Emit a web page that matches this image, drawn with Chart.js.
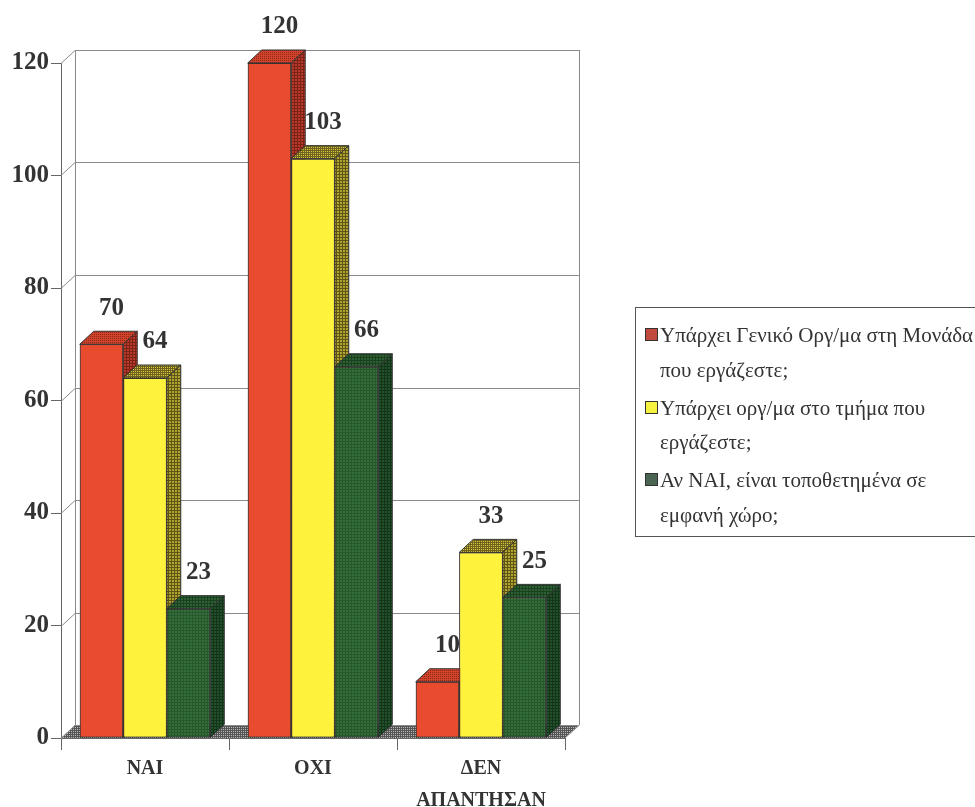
<!DOCTYPE html>
<html>
<head>
<meta charset="utf-8">
<script src="https://cdn.jsdelivr.net/npm/chart.js@4.4.1/dist/chart.umd.min.js"></script>
<style>
  html, body { margin: 0; padding: 0; background: #ffffff; overflow: hidden; width: 975px; height: 807px; }
  #wrap { position: relative; width: 975px; height: 807px; }
  #chart { position: absolute; left: 0; top: 0; }
  #legend { position: absolute; left: 635px; top: 307px; width: 360px; height: 230px; box-sizing: border-box;
            border: 1px solid #555; font-family: "Liberation Serif", "Times New Roman", serif; font-size: 21px; color: #333; }
  #legend .ln { position: absolute; left: 24px; white-space: nowrap; line-height: 21px; }
  #legend .sw { position: absolute; left: 9px; width: 11px; height: 11px; border: 1px solid #333; }
</style>
</head>
<body>
<div id="wrap">
  <canvas id="chart" width="975" height="807"></canvas>
  <div id="legend"></div>
</div>
<script>
// ---- data ----
const categories = ['ΝΑΙ', 'ΟΧΙ', ['ΔΕΝ', 'ΑΠΑΝΤΗΣΑΝ']];
const generalUnitValues = [70, 120, 10];
const departmentValues = [64, 103, 33];
const visiblePlaceValues = [23, 66, 25];
const yTickValues = [0, 20, 40, 60, 80, 100, 120];
const seriesNames = [
  ['Υπάρχει Γενικό Οργ/μα στη Μονάδα', 'που εργάζεστε;'],
  ['Υπάρχει οργ/μα στο τμήμα που', 'εργάζεστε;'],
  ['Αν ΝΑΙ, είναι τοποθετημένα σε', 'εμφανή χώρο;']
];

// ---- 3D depth of the boxes ----
const DX = 14, DY = 13;

// small repeating textures for the shaded faces
const patCtx = document.createElement('canvas').getContext('2d');
function texture(bg, fg, step, mode) {
  const c = document.createElement('canvas');
  c.width = c.height = step;
  const g = c.getContext('2d');
  g.fillStyle = bg; g.fillRect(0, 0, step, step);
  g.fillStyle = fg;
  if (mode === 'grid') { g.fillRect(0, 0, step, 1); g.fillRect(0, 0, 1, step); }
  else { g.fillRect(0, 0, 1, 1); }
  return patCtx.createPattern(c, 'repeat');
}

const faces = [
  { front: '#e94b2f', top: texture('#d2432c', '#8f2a1a', 2, 'dot'), side: texture('#b9392a', '#7a2216', 3, 'grid') },
  { front: '#fff23c', top: texture('#d8c83a', '#6e6420', 2, 'grid'), side: texture('#b2a22e', '#5e5618', 3, 'grid') },
  { front: texture('#346f3b', '#27572c', 3, 'grid'), top: texture('#2d6133', '#1b4020', 3, 'grid'), side: texture('#22502a', '#143519', 3, 'grid') }
];
const legendSwatches = ['#c04a3e', '#f4f23e', '#4a6652'];
const floorFill = texture('#b8b8b8', '#555555', 2, 'grid');
const wallLine = '#8a8a8a';

function poly(ctx, pts, fill) {
  ctx.beginPath();
  ctx.moveTo(pts[0][0], pts[0][1]);
  for (let k = 1; k < pts.length; k++) ctx.lineTo(pts[k][0], pts[k][1]);
  ctx.closePath();
  ctx.fillStyle = fill;
  ctx.fill();
  ctx.stroke();
}

// back wall, floor and the finished boxes with their value labels
const box3d = {
  id: 'box3d',
  beforeDatasetsDraw(chart) {
    const { ctx, chartArea: a, scales: { y } } = chart;
    ctx.save();
    ctx.fillStyle = floorFill;
    ctx.beginPath();
    ctx.moveTo(a.left, a.bottom);
    ctx.lineTo(a.right, a.bottom);
    ctx.lineTo(a.right + DX, a.bottom - DY);
    ctx.lineTo(a.left + DX, a.bottom - DY);
    ctx.closePath();
    ctx.fill();

    ctx.strokeStyle = wallLine;
    ctx.lineWidth = 1;
    ctx.beginPath();
    y.ticks.forEach(t => {
      const py = Math.round(y.getPixelForValue(t.value)) + 0.5;
      ctx.moveTo(a.left, py);
      ctx.lineTo(a.left + DX, py - DY);
      ctx.lineTo(a.right + DX, py - DY);
    });
    const bx = Math.round(a.left + DX) + 0.5, rx = Math.round(a.right + DX) + 0.5;
    ctx.moveTo(bx, a.top - DY); ctx.lineTo(bx, a.bottom - DY);
    ctx.moveTo(rx, a.top - DY); ctx.lineTo(rx, a.bottom - DY);
    ctx.lineTo(a.right, a.bottom);
    ctx.stroke();
    ctx.restore();
  },
  afterDatasetsDraw(chart) {
    const ctx = chart.ctx;
    const metas = chart.data.datasets.map((d, i) => chart.getDatasetMeta(i));
    const n = chart.data.labels.length;
    for (let j = 0; j < n; j++) {
      for (let i = 0; i < metas.length; i++) {
        const bar = metas[i].data[j];
        bar.draw(ctx);
        const { x, y, base, width } = bar.getProps(['x', 'y', 'base', 'width'], true);
        const x0 = x - width / 2, x1 = x + width / 2;
        ctx.save();
        ctx.strokeStyle = '#333';
        ctx.lineWidth = 1;
        ctx.lineJoin = 'round';
        poly(ctx, [[x0, y], [x1, y], [x1 + DX, y - DY], [x0 + DX, y - DY]], faces[i].top);
        poly(ctx, [[x1, y], [x1 + DX, y - DY], [x1 + DX, base - DY], [x1, base]], faces[i].side);
        ctx.restore();
      }
    }
    ctx.save();
    ctx.font = 'bold 25px "Liberation Serif", serif';
    ctx.fillStyle = '#333';
    ctx.textAlign = 'center';
    ctx.textBaseline = 'middle';
    metas.forEach((m, i) => {
      m.data.forEach((bar, j) => {
        const v = chart.data.datasets[i].data[j];
        ctx.fillText(String(v), bar.x + 10, bar.y - 36);
      });
    });
    ctx.restore();
  }
};

const serif = '"Liberation Serif", "Times New Roman", serif';
const series = [generalUnitValues, departmentValues, visiblePlaceValues];

new Chart(document.getElementById('chart'), {
  type: 'bar',
  data: {
    labels: categories,
    datasets: series.map((vals, i) => ({
      label: seriesNames[i].join(' '),
      data: vals,
      backgroundColor: faces[i].front,
      borderColor: '#333',
      borderWidth: 1,
      borderSkipped: false
    }))
  },
  options: {
    responsive: false,
    animation: false,
    devicePixelRatio: 1,
    layout: { padding: { top: 63, right: 410, left: 0, bottom: 0 } },
    plugins: { legend: { display: false }, tooltip: { enabled: false } },
    datasets: { bar: { categoryPercentage: 0.777, barPercentage: 1 } },
    scales: {
      x: {
        grid: { drawOnChartArea: false, tickLength: 12, color: '#666' },
        border: { color: '#666' },
        ticks: { font: { family: serif, size: 20, weight: 'bold', lineHeight: 1.6 }, color: '#333', padding: 3, maxRotation: 0 },
        afterFit(s) { s.height = 69; }
      },
      y: {
        min: 0,
        max: 120,
        afterBuildTicks(s) { s.ticks = yTickValues.map(v => ({ value: v })); },
        grid: { drawOnChartArea: false, tickLength: 10, color: '#666' },
        border: { color: '#666' },
        ticks: { font: { family: serif, size: 25, weight: 'bold' }, color: '#333', padding: 2 },
        afterFit(s) { s.width = 61; }
      }
    }
  },
  plugins: [box3d]
});

// legend box
const legend = document.getElementById('legend');
const lineTops = [[17, 52], [90, 124], [162, 197]];
seriesNames.forEach((lines, i) => {
  const sw = document.createElement('div');
  sw.className = 'sw';
  sw.style.top = (lineTops[i][0] + 3) + 'px';
  sw.style.background = legendSwatches[i];
  legend.appendChild(sw);
  lines.forEach((t, k) => {
    const d = document.createElement('div');
    d.className = 'ln';
    d.style.top = lineTops[i][k] + 'px';
    d.textContent = t;
    legend.appendChild(d);
  });
});
</script>
</body>
</html>
